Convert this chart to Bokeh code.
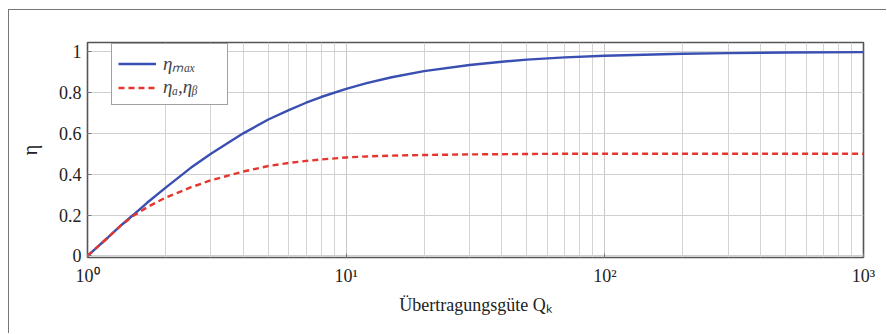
from bokeh.plotting import figure
from bokeh.models import Range1d, FixedTicker, Legend, LegendItem
from bokeh.embed import file_html
from bokeh.resources import INLINE

# Data
q_k = [1, 1.2, 1.35, 1.5, 1.7, 2, 2.5, 3, 4, 5, 6, 7, 8, 10, 12, 15, 20, 30, 40, 50, 70,
       100, 200, 300, 500, 1000]
eta_max = [0, 0.09, 0.15, 0.20, 0.26, 0.333, 0.43, 0.50, 0.60, 0.668, 0.714, 0.75, 0.778,
           0.818, 0.846, 0.875, 0.905, 0.935, 0.951, 0.961, 0.972, 0.98, 0.99, 0.993, 0.996,
           0.998]
eta_ab = [0, 0.09, 0.15, 0.195, 0.238, 0.285, 0.335, 0.37, 0.413, 0.44, 0.455, 0.465, 0.472,
          0.482, 0.487, 0.491, 0.494, 0.497, 0.498, 0.499, 0.5, 0.5, 0.5, 0.5, 0.5, 0.5]
y_ticks = [0, 0.2, 0.4, 0.6, 0.8, 1]
y_tick_labels = ["0", "0.2", "0.4", "0.6", "0.8", "1"]
x_ticks = [1, 10, 100, 1000]
x_tick_labels = ["10⁰", "10¹", "10²", "10³"]

FONT = "'Liberation Serif', serif"

p = figure(width=878, height=324, x_axis_type="log", output_backend="svg",
           toolbar_location=None,
           x_range=Range1d(1, 1000), y_range=Range1d(-0.008, 1.045),
           min_border_left=78, min_border_right=24, min_border_top=32, min_border_bottom=77)
p.margin = (9, 0, 0, 8)
p.styles = {"border-top": "1px solid #777", "border-left": "1px solid #777"}

l1 = p.line(q_k, eta_max, line_color="#3a4fb2", line_width=2.4)
l2 = p.line(q_k, eta_ab, line_color="#e6352c", line_width=2.4, line_dash="6 4")

p.outline_line_color = "#555555"
p.outline_line_width = 1.6

# grids
p.xgrid.grid_line_color = "#c8c8c8"
p.xgrid.grid_line_width = 1
p.xgrid.minor_grid_line_color = "#d4d4d4"
p.xgrid.minor_grid_line_width = 1
p.ygrid.grid_line_color = "#d0d0d0"
p.ygrid.grid_line_width = 1

p.xaxis.ticker = FixedTicker(ticks=x_ticks, minor_ticks=[m * d for d in [1, 10, 100] for m in range(2, 10)])
p.xaxis.major_label_overrides = {t: l for t, l in zip(x_ticks, x_tick_labels)}
p.yaxis.ticker = FixedTicker(ticks=y_ticks)
p.yaxis.major_label_overrides = {t: l for t, l in zip(y_ticks, y_tick_labels)}

for ax in (p.xaxis, p.yaxis):
    ax.axis_line_color = None
    ax.major_tick_line_color = "#777777"
    ax.major_tick_in = 4
    ax.major_tick_out = 0
    ax.minor_tick_line_color = None
    ax.major_label_text_font = FONT
    ax.major_label_text_font_size = "18px"
    ax.major_label_text_color = "#222222"
    ax.axis_label_text_font = FONT
    ax.axis_label_text_font_style = "normal"
    ax.axis_label_text_color = "#222222"

p.xaxis.major_label_standoff = 4
p.yaxis.major_label_standoff = 6
p.xaxis.axis_label = "Übertragungsgüte Qₖ"
p.xaxis.axis_label_text_font_size = "18px"
p.xaxis.axis_label_standoff = 6
p.yaxis.axis_label = "η"
p.yaxis.axis_label_text_font_size = "20px"
p.yaxis.axis_label_standoff = 15

legend = Legend(items=[LegendItem(label="ηₘₐₓ", renderers=[l1]),
                       LegendItem(label="ηₐ,ηᵦ", renderers=[l2])],
                location=(24, 152))
legend.margin = 0
legend.border_line_color = "#444444"
legend.border_line_width = 1.6
legend.background_fill_color = "white"
legend.background_fill_alpha = 1
legend.label_text_font = FONT
legend.label_text_font_style = "italic"
legend.label_text_font_size = "19px"
legend.glyph_width = 38
legend.label_standoff = 7
legend.label_width = 58
legend.spacing = 0
legend.padding = 6
legend.label_height = 21
legend.glyph_height = 21
p.add_layout(legend, "center")

open("out.html", "w").write(file_html(p, INLINE))
